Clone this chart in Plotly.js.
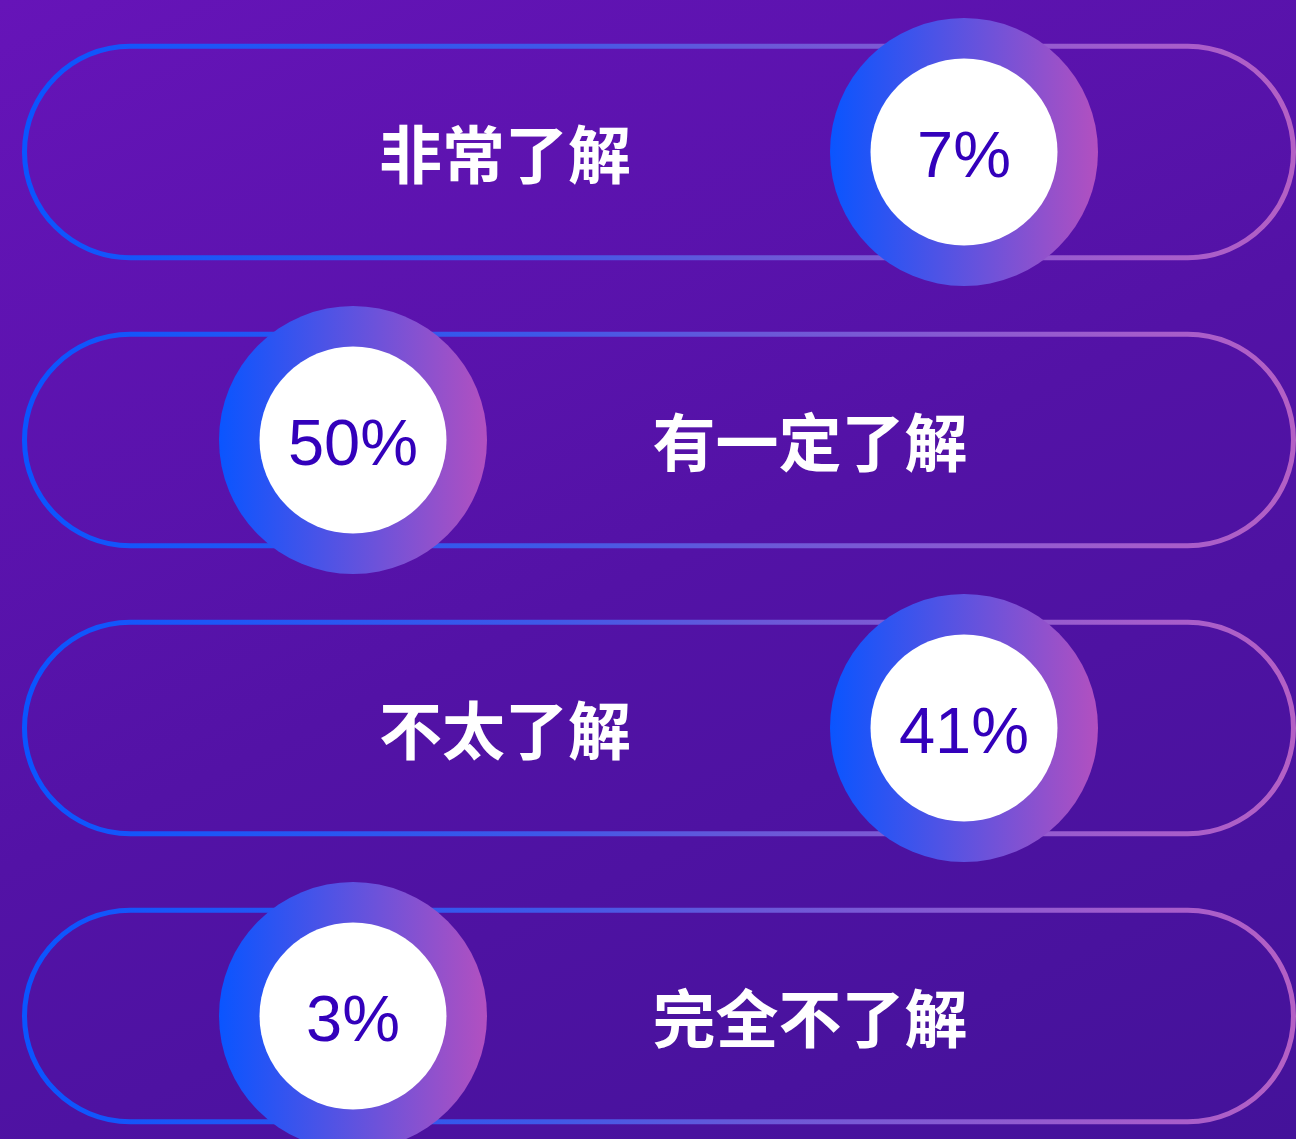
<!DOCTYPE html>
<html>
<head>
<meta charset="utf-8">
<script src="https://cdn.plot.ly/plotly-3.0.1.min.js"></script>
<style>
    html, body { margin: 0; padding: 0; }
    #plot {
        width: 1296px;
        height: 1139px;
        background: linear-gradient(155deg, #6614b8 0%, #5312a6 50%, #44129a 100%);
    }
</style>
</head>
<body>
<div id="plot"></div>
<script>
// survey answers and their share
var labels = ['非常了解', '有一定了解', '不太了解', '完全不了解'];
var percents = [7, 50, 41, 3];

document.addEventListener('DOMContentLoaded', function () {
    var W = 1296, H = 1139;
    var rowStep = 288, firstRow = 152;
    var pillLeft = 24.5, pillRight = 1293.5, pillR = 105.75;
    var labelDy = 10, pctDy = 9; // nudge text down so glyphs sit on the row centre

    var ys = [], circleXs = [], labelXs = [], pctText = [], labelYs = [], pctYs = [];
    for (var i = 0; i < labels.length; i++) {
        var y = firstRow + i * rowStep;
        ys.push(y);
        labelYs.push(y + labelDy);
        pctYs.push(y + pctDy);
        circleXs.push(i % 2 ? 353 : 964);
        labelXs.push(i % 2 ? 810 : 505);
        pctText.push(percents[i] + '%');
    }

    // rounded pill outline, built with bezier quarter arcs
    function pillPath(cy) {
        var r = pillR, k = 0.5523 * pillR;
        var x0 = pillLeft, x1 = pillRight;
        return 'M' + (x0 + r) + ',' + (cy - r) +
            ' L' + (x1 - r) + ',' + (cy - r) +
            ' C' + (x1 - r + k) + ',' + (cy - r) + ' ' + x1 + ',' + (cy - k) + ' ' + x1 + ',' + cy +
            ' C' + x1 + ',' + (cy + k) + ' ' + (x1 - r + k) + ',' + (cy + r) + ' ' + (x1 - r) + ',' + (cy + r) +
            ' L' + (x0 + r) + ',' + (cy + r) +
            ' C' + (x0 + r - k) + ',' + (cy + r) + ' ' + x0 + ',' + (cy + k) + ' ' + x0 + ',' + cy +
            ' C' + x0 + ',' + (cy - k) + ' ' + (x0 + r - k) + ',' + (cy - r) + ' ' + (x0 + r) + ',' + (cy - r) + ' Z';
    }

    var shapes = ys.map(function (y) {
        return {
            type: 'path',
            xref: 'x', yref: 'y',
            path: pillPath(y),
            line: { color: '#6a58d8', width: 5 },
            fillcolor: 'rgba(0,0,0,0)',
            layer: 'below'
        };
    });

    var ring = {
        x: circleXs, y: ys,
        type: 'scatter', mode: 'markers',
        marker: {
            size: 268,
            color: '#0a55ff',
            gradient: { type: 'horizontal', color: '#b250c0' },
            line: { width: 0 }
        },
        hoverinfo: 'skip'
    };

    var inner = {
        x: circleXs, y: ys,
        type: 'scatter', mode: 'markers',
        marker: { size: 187, color: '#ffffff', line: { width: 0 } },
        hoverinfo: 'skip'
    };

    var pctTrace = {
        x: circleXs, y: pctYs,
        type: 'scatter', mode: 'text',
        text: pctText,
        textposition: 'middle center',
        textfont: { family: 'Liberation Sans, Arial, sans-serif', size: 65, color: '#3300bb' },
        hoverinfo: 'skip',
        cliponaxis: false
    };

    var labelTrace = {
        x: labelXs, y: labelYs,
        type: 'scatter', mode: 'text',
        text: labels,
        textposition: 'middle center',
        textfont: { family: 'Noto Sans CJK SC, sans-serif', size: 63, color: '#ffffff', weight: 700 },
        hoverinfo: 'skip',
        cliponaxis: false
    };

    var layout = {
        width: W, height: H,
        margin: { l: 0, r: 0, t: 0, b: 0 },
        paper_bgcolor: 'rgba(0,0,0,0)',
        plot_bgcolor: 'rgba(0,0,0,0)',
        showlegend: false,
        xaxis: { range: [0, W], visible: false, fixedrange: true },
        yaxis: { range: [H, 0], visible: false, fixedrange: true },
        shapes: shapes
    };

    var plotElement = document.getElementById('plot');
    Plotly.newPlot(plotElement, [ring, inner, pctTrace, labelTrace], layout, { displayModeBar: false, staticPlot: true })
        .then(function (gd) {
            // give the pill outlines a left-to-right gradient stroke
            var ns = 'http://www.w3.org/2000/svg';
            var svg = gd.querySelector('svg.main-svg');
            var defs = svg.querySelector('defs') || svg.insertBefore(document.createElementNS(ns, 'defs'), svg.firstChild);
            var grad = document.createElementNS(ns, 'linearGradient');
            grad.setAttribute('id', 'pillGrad');
            grad.setAttribute('x1', '0'); grad.setAttribute('y1', '0');
            grad.setAttribute('x2', '1'); grad.setAttribute('y2', '0');
            var stops = [[0, '#0a55ff'], [0.41, '#3f58e8'], [0.58, '#6a58d8'], [0.88, '#a45ccc'], [1, '#b460c4']];
            stops.forEach(function (s) {
                var st = document.createElementNS(ns, 'stop');
                st.setAttribute('offset', s[0]);
                st.setAttribute('stop-color', s[1]);
                grad.appendChild(st);
            });
            defs.appendChild(grad);
            gd.querySelectorAll('.shapelayer path').forEach(function (p) {
                p.style.stroke = 'url(#pillGrad)';
            });
        });
});
</script>
</body>
</html>
